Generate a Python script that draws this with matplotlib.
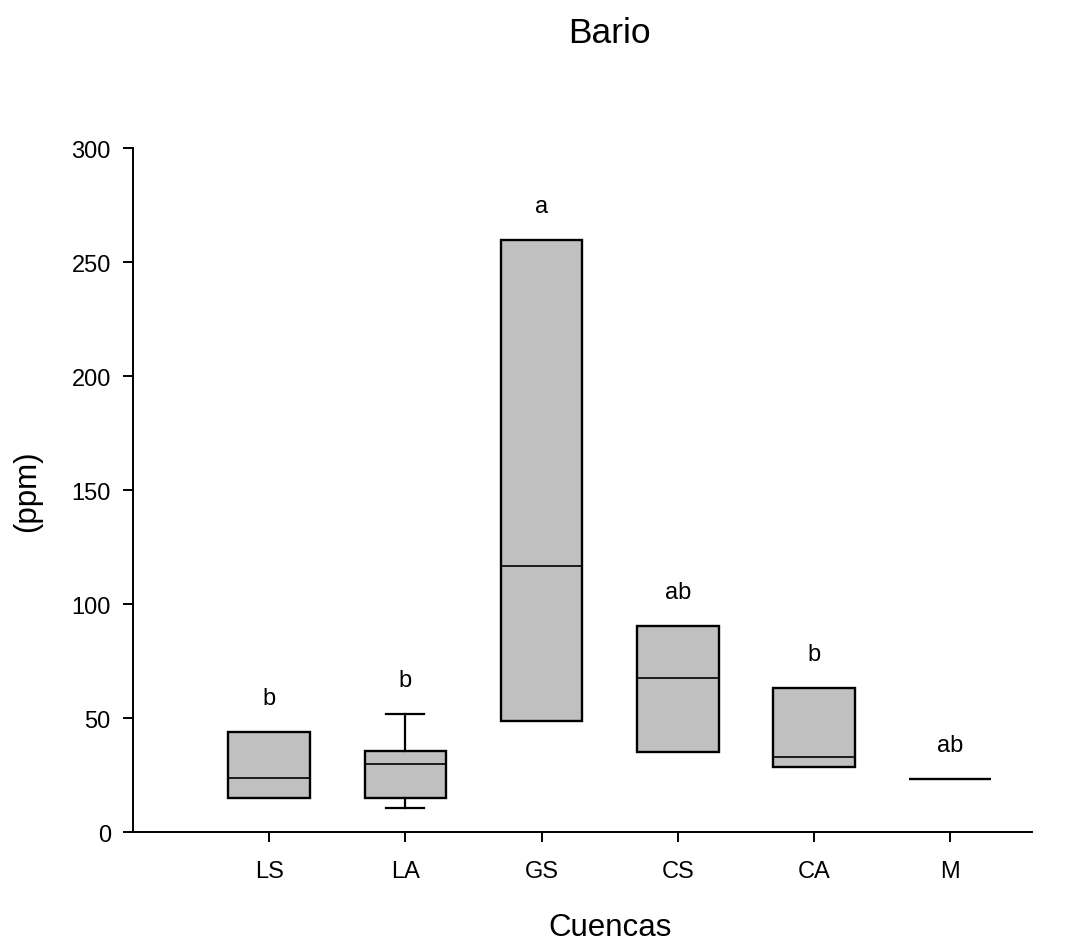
import matplotlib
matplotlib.use("Agg")
import matplotlib.pyplot as plt
import matplotlib.transforms as mtransforms

plt.rcParams['font.family'] = ['Liberation Sans', 'DejaVu Sans']

categories = ['LS', 'LA', 'GS', 'CS', 'CA', 'M']
q1 = [15.0, 15.1, 48.9, 35.4, 28.5, 23.4]
medians = [23.8, 30.0, 116.9, 67.7, 33.2, 23.4]
q3 = [44.2, 35.7, 259.9, 90.4, 63.3, 23.4]
whisker_low = [15.0, 10.8, 48.9, 35.4, 28.5, 23.4]
whisker_high = [44.2, 51.9, 259.9, 90.4, 63.3, 23.4]
group_letters = ['b', 'b', 'a', 'ab', 'b', 'ab']
y_ticks = [0, 50, 100, 150, 200, 250, 300]

fig = plt.figure(figsize=(10.75, 9.45), dpi=100)
ax = fig.add_axes([0.1237, 0.1182, 0.8363, 0.7238])

positions = list(range(1, len(categories) + 1))
stats = []
for i, name in enumerate(categories):
    stats.append(dict(label=name, q1=q1[i], med=medians[i], q3=q3[i],
                      whislo=whisker_low[i], whishi=whisker_high[i], fliers=[]))

parts = ax.bxp(stats, positions=positions, widths=0.6, patch_artist=True,
               showfliers=False, capwidths=0.28,
               boxprops=dict(facecolor='#c0c0c0', edgecolor='black', linewidth=1.7),
               medianprops=dict(color='black', linewidth=1.2),
               whiskerprops=dict(color='black', linewidth=1.6),
               capprops=dict(color='black', linewidth=1.6))

# hide whiskers/caps where they coincide with the box edges
for i in range(len(categories)):
    if whisker_low[i] == q1[i]:
        parts['whiskers'][2 * i].set_visible(False)
        parts['caps'][2 * i].set_visible(False)
    if whisker_high[i] == q3[i]:
        parts['whiskers'][2 * i + 1].set_visible(False)
        parts['caps'][2 * i + 1].set_visible(False)

# significance letters above each group
for x, top, letter in zip(positions, whisker_high, group_letters):
    ax.annotate(letter, xy=(x, top), xytext=(0, 20), textcoords='offset points',
                ha='center', va='baseline', fontsize=17)

ax.set_xlim(0, 6.6)
ax.set_ylim(0, 300)
ax.set_yticks(y_ticks)
ax.set_xticks(positions)
ax.set_xticklabels(categories)

for side in ('top', 'right'):
    ax.spines[side].set_visible(False)
for side in ('left', 'bottom'):
    ax.spines[side].set_linewidth(1.4)

ax.tick_params(axis='both', direction='out', length=7, width=1.4, labelsize=17)
ax.tick_params(axis='y', pad=9)
ax.tick_params(axis='x', pad=13)

# title and x label centred over the groups
trans = mtransforms.blended_transform_factory(ax.transData, fig.transFigure)
center = (positions[0] + positions[-1]) / 2
fig.text(center, 1 - 43 / 945, 'Bario', transform=trans, ha='center',
         va='baseline', fontsize=25.5)
fig.text(center, 1 - 936 / 945, 'Cuencas', transform=trans, ha='center',
         va='baseline', fontsize=22.5)
fig.text(27 / 1075, 1 - (149.3 + 833.3) / 2 / 945, '(ppm)',
         rotation=90, ha='center', va='center', fontsize=22.5)

fig.savefig('out.png', dpi=100)
